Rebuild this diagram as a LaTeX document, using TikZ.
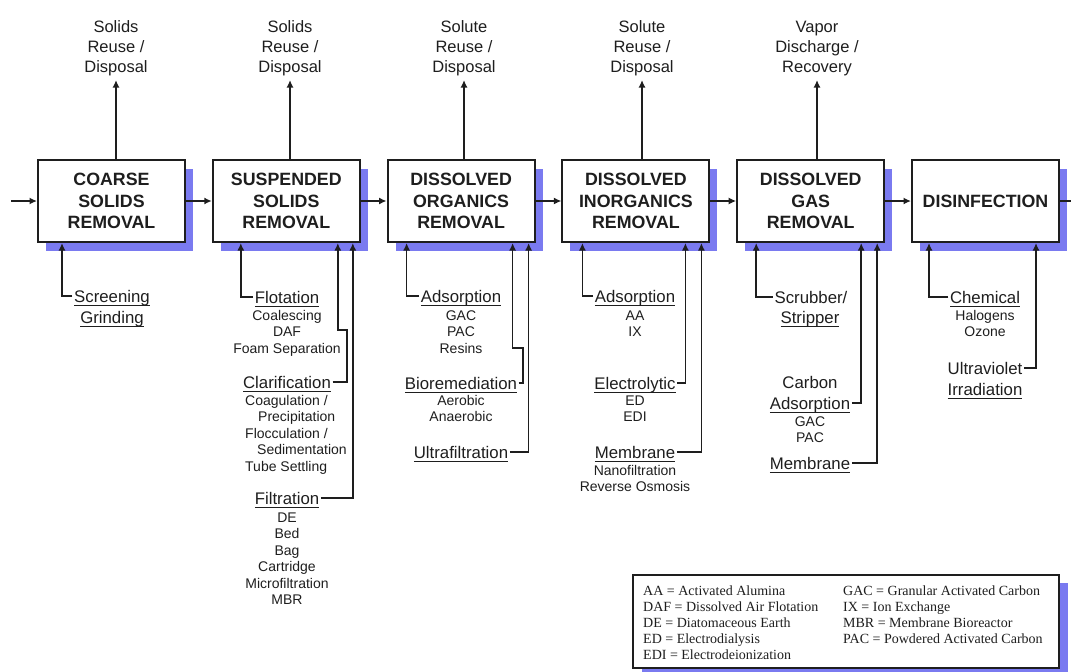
\documentclass[tikz,border=0pt]{standalone}
\usepackage{fontspec}
\setmainfont{Liberation Sans}
\newfontfamily\legfont{Liberation Serif}
\usetikzlibrary{arrows.meta,shadows}
\definecolor{shadowblue}{RGB}{122,122,240}
\definecolor{ink}{RGB}{30,30,30}
\newcommand\myul[1]{\setbox0\hbox{#1}\rlap{\rule[-3.8pt]{\wd0}{1.1pt}}\box0}
\tikzset{
  procbox/.style={draw=ink, line width=2pt, fill=white, minimum width=147pt, minimum height=82pt,
    inner sep=0pt, align=center, text=ink,
    font=\fontsize{17.8}{21.7}\selectfont\bfseries,
    drop shadow={shadow xshift=8pt, shadow yshift=-8.5pt, fill=shadowblue, opacity=1}},
  arr/.style={draw=ink, line width=1.7pt, -{Latex[length=7.5pt,width=7pt]}},
  plain/.style={draw=ink, line width=1.7pt},
  toplab/.style={anchor=base, inner sep=0pt, outer sep=2pt, text=ink, font=\fontsize{16.5}{20}\selectfont},
  head/.style={anchor=center, inner xsep=1.5pt, inner ysep=0pt, text height=12pt, text depth=0pt, text=ink,
    font=\fontsize{16.8}{20}\selectfont},
  headb/.style={anchor=base, inner sep=0pt, text=ink, font=\fontsize{16.8}{20}\selectfont},
  sub/.style={anchor=base, inner sep=0pt, text=ink, font=\fontsize{14}{16.5}\selectfont},
  legbox/.style={draw=ink, line width=1.5pt, fill=white, minimum width=426pt, minimum height=93pt, inner sep=0pt,
    drop shadow={shadow xshift=9pt, shadow yshift=-8pt, fill=shadowblue, opacity=1}},
  legtext/.style={anchor=north west, inner sep=0pt, text=ink, font=\legfont\fontsize{14}{16.2}\selectfont}
}
\begin{document}
\begin{tikzpicture}[x=1pt,y=-1pt]
\useasboundingbox (0,0) rectangle (1071,672);
% process boxes
\node[procbox] (b1) at (111.5,201) {COARSE\\SOLIDS\\REMOVAL};
\node[procbox] (b2) at (286.3,201) {SUSPENDED\\SOLIDS\\REMOVAL};
\node[procbox] (b3) at (461.1,201) {DISSOLVED\\ORGANICS\\REMOVAL};
\node[procbox] (b4) at (635.9,201) {DISSOLVED\\INORGANICS\\REMOVAL};
\node[procbox] (b5) at (810.7,201) {DISSOLVED\\GAS\\REMOVAL};
\node[procbox] (b6) at (985.5,201) {DISINFECTION};
% flow
\coordinate (in) at ([xshift=-26pt]b1.west);
\coordinate (out) at ([xshift=16pt]b6.east);
\draw[arr] (in) -- (b1);
\draw[arr] (b1) -- (b2);
\draw[arr] (b2) -- (b3);
\draw[arr] (b3) -- (b4);
\draw[arr] (b4) -- (b5);
\draw[arr] (b5) -- (b6);
\draw[plain] (b6) -- (out);
% top outputs
\node[toplab] (t1) at (116,72) {\begin{tabular}[b]{@{}c@{}}Solids\\Reuse /\\Disposal\end{tabular}};
\node[toplab] (t2) at (290,72) {\begin{tabular}[b]{@{}c@{}}Solids\\Reuse /\\Disposal\end{tabular}};
\node[toplab] (t3) at (464,72) {\begin{tabular}[b]{@{}c@{}}Solute\\Reuse /\\Disposal\end{tabular}};
\node[toplab] (t4) at (642,72) {\begin{tabular}[b]{@{}c@{}}Solute\\Reuse /\\Disposal\end{tabular}};
\node[toplab] (t5) at (817,72) {\begin{tabular}[b]{@{}c@{}}Vapor\\Discharge /\\Recovery\end{tabular}};
\draw[arr] (t1.south |- b1.north) -- (t1.south);
\draw[arr] (t2.south |- b2.north) -- (t2.south);
\draw[arr] (t3.south |- b3.north) -- (t3.south);
\draw[arr] (t4.south |- b4.north) -- (t4.south);
\draw[arr] (t5.south |- b5.north) -- (t5.south);
% attachment points on box bottoms
\coordinate (p11) at ([xshift=25pt]b1.south west);
\coordinate (p21) at ([xshift=29pt]b2.south west);
\coordinate (p22) at ([xshift=126pt]b2.south west);
\coordinate (p23) at ([xshift=141pt]b2.south west);
\coordinate (p31) at ([xshift=20pt]b3.south west);
\coordinate (p32) at ([xshift=126pt]b3.south west);
\coordinate (p33) at ([xshift=142pt]b3.south west);
\coordinate (p41) at ([xshift=21pt]b4.south west);
\coordinate (p42) at ([xshift=124pt]b4.south west);
\coordinate (p43) at ([xshift=140pt]b4.south west);
\coordinate (p51) at ([xshift=20pt]b5.south west);
\coordinate (p52) at ([xshift=125pt]b5.south west);
\coordinate (p53) at ([xshift=141pt]b5.south west);
\coordinate (p61) at ([xshift=18pt]b6.south west);
\coordinate (p62) at ([xshift=125pt]b6.south west);
% box 1
\node[head] (scr) at (112,296) {\myul{Screening}};
\node[headb] (grd) at (112,323) {\myul{Grinding}};
\draw[arr] (scr.west) -| (p11);
% box 2
\node[head] (flo) at (287,297) {\myul{Flotation}};
\node[sub] (flos) at (287,320) {\begin{tabular}[t]{@{}c@{}}Coalescing\\DAF\\Foam Separation\end{tabular}};
\node[head] (cla) at (287,382) {\myul{Clarification}};
\node[sub, anchor=base west] (clas) at (245,405) {\begin{tabular}[t]{@{}l@{}}Coagulation /\\\hspace{13pt}Precipitation\\Flocculation /\\\hspace{12pt}Sedimentation\\Tube Settling\end{tabular}};
\node[head] (fil) at (287,498) {\myul{Filtration}};
\node[sub] (fils) at (287,522) {\begin{tabular}[t]{@{}c@{}}DE\\Bed\\Bag\\Cartridge\\Microfiltration\\MBR\end{tabular}};
\coordinate (j2a) at (347,330);
\draw[arr] (flo.west) -| (p21);
\draw[arr] (cla.east) -| (j2a) -| (p22);
\draw[arr] (fil.east) -| (p23);
% box 3
\node[head] (ad3) at (461,296) {\myul{Adsorption}};
\node[sub] (ad3s) at (461,320) {\begin{tabular}[t]{@{}c@{}}GAC\\PAC\\Resins\end{tabular}};
\node[head] (bio) at (461,383) {\myul{Bioremediation}};
\node[sub] (bios) at (461,405) {\begin{tabular}[t]{@{}c@{}}Aerobic\\Anaerobic\end{tabular}};
\node[head] (ult) at (461,452) {\myul{Ultrafiltration}};
\coordinate (j3a) at (523,348);
\draw[arr] (ad3.west) -| (p31);
\draw[arr] (bio.east) -| (j3a) -| (p32);
\draw[arr] (ult.east) -| (p33);
% box 4
\node[head] (ad4) at (635,296) {\myul{Adsorption}};
\node[sub] (ad4s) at (635,320) {\begin{tabular}[t]{@{}c@{}}AA\\IX\end{tabular}};
\node[head] (ele) at (635,383) {\myul{Electrolytic}};
\node[sub] (eles) at (635,405) {\begin{tabular}[t]{@{}c@{}}ED\\EDI\end{tabular}};
\node[head] (mem4) at (635,452) {\myul{Membrane}};
\node[sub] (mem4s) at (635,475) {\begin{tabular}[t]{@{}c@{}}Nanofiltration\\Reverse Osmosis\end{tabular}};
\draw[arr] (ad4.west) -| (p41);
\draw[arr] (ele.east) -| (p42);
\draw[arr] (mem4.east) -| (p43);
% box 5
\node[head] (scb) at (811,297) {Scrubber/};
\node[headb] (stp) at (810,323) {\myul{Stripper}};
\node[headb] (crb) at (810,388) {Carbon};
\node[head] (ad5) at (810,403) {\myul{Adsorption}};
\node[sub] (ad5s) at (810,426) {\begin{tabular}[t]{@{}c@{}}GAC\\PAC\end{tabular}};
\node[head] (mem5) at (810,463) {\myul{Membrane}};
\draw[arr] (scb.west) -| (p51);
\draw[arr] (ad5.east) -| (p52);
\draw[arr] (mem5.east) -| (p53);
% box 6
\node[head] (che) at (985,297) {\myul{Chemical}};
\node[sub] (ches) at (985,320) {\begin{tabular}[t]{@{}c@{}}Halogens\\Ozone\end{tabular}};
\node[head] (uvl) at (985,368) {Ultraviolet};
\node[headb] (irr) at (985,395) {\myul{Irradiation}};
\draw[arr] (che.west) -| (p61);
\draw[arr] (uvl.east) -| (p62);
% legend
\node[legbox] (leg) at (846,621.5) {};
\node[legtext] (legt) at (643,583.6) {\begin{tabular}{@{}p{200pt}@{}l@{}}
AA = Activated Alumina & GAC = Granular Activated Carbon\\
DAF = Dissolved Air Flotation & IX = Ion Exchange\\
DE = Diatomaceous Earth & MBR = Membrane Bioreactor\\
ED = Electrodialysis & PAC = Powdered Activated Carbon\\
EDI = Electrodeionization &
\end{tabular}};
\end{tikzpicture}
\end{document}
